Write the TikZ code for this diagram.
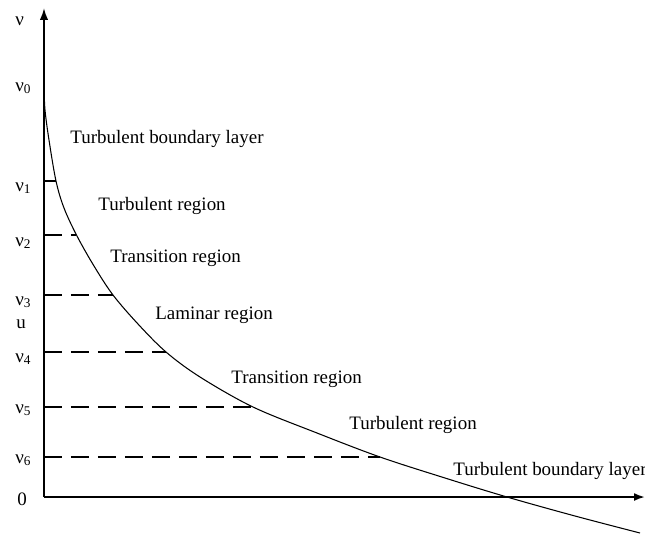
\documentclass[tikz,border=0pt]{standalone}
\usepackage{fontspec}
\setmainfont{Liberation Serif}
\usetikzlibrary{arrows.meta}

\begin{document}
\begin{tikzpicture}[x=0.02cm,y=-0.02cm,
  every node/.style={font=\fontsize{10.8}{13}\selectfont},
  vlabel/.style={anchor=base west,inner sep=0pt},
  region/.style={anchor=base west,inner sep=0pt},
  level/.style={line width=1.3pt,dash pattern=on 0.36cm off 0.18cm}]
  \useasboundingbox (0,0) rectangle (645,534);
  % Axes
  \coordinate (o) at (44,497);
  \coordinate (ytip) at (44,8);
  \coordinate (xtip) at (645,497);
  \draw[line width=1.1pt,-{Latex[length=0.24cm,width=0.17cm]}] (o) -- (ytip);
  \draw[line width=1.1pt,-{Latex[length=0.22cm,width=0.16cm]}] (o) -- (xtip);
  % Curve nu(x)
  \draw[line width=0.6pt] plot[smooth,tension=0.55] coordinates {
    (44,86) (45,110) (49,140) (56,181) (64,208) (77,236) (94,266)
    (113,295) (138,324) (166,352) (200,377) (253,407) (317,433)
    (380,457) (445,478) (507,497) (575,516) (640,533)};
  % Levels
  \foreach \i/\y/\cx in {1/181/56,2/235/76,3/295/113,4/352/166,5/407/253,6/457/380} {
    \coordinate (a\i) at (44,\y);
    \coordinate (c\i) at (\cx,\y);
  }
  \draw[line width=1.3pt] (a1) -- (c1);
  \foreach \i in {2,...,5}
    \draw[level] (a\i) -- (c\i);
  \draw[level,line width=1pt] (a6) -- (c6);
  % Axis labels
  \node[vlabel] (nu)  at (15,25)  {ν};
  \node[vlabel] (nu0) at (15,91)  {ν\textsubscript{0}};
  \node[vlabel] (nu1) at (15,191) {ν\textsubscript{1}};
  \node[vlabel] (nu2) at (15,246) {ν\textsubscript{2}};
  \node[vlabel] (nu3) at (15,305) {ν\textsubscript{3}};
  \node[vlabel] (u)   at (16,328) {u};
  \node[vlabel] (nu4) at (15,362) {ν\textsubscript{4}};
  \node[vlabel] (nu5) at (15,413) {ν\textsubscript{5}};
  \node[vlabel] (nu6) at (15,463) {ν\textsubscript{6}};
  \node[vlabel] (zero) at (17,505) {0};
  % Regions
  \node[region] (tbl1) at (70,143)  {Turbulent boundary layer};
  \node[region] (tr1)  at (98,210)  {Turbulent region};
  \node[region] (tn1)  at (110,262) {Transition region};
  \node[region] (lam)  at (155,319) {Laminar region};
  \node[region] (tn2)  at (231,383) {Transition region};
  \node[region] (tr2)  at (349,429) {Turbulent region};
  \node[region] (tbl2) at (453,475) {Turbulent boundary layer};
\end{tikzpicture}
\end{document}
